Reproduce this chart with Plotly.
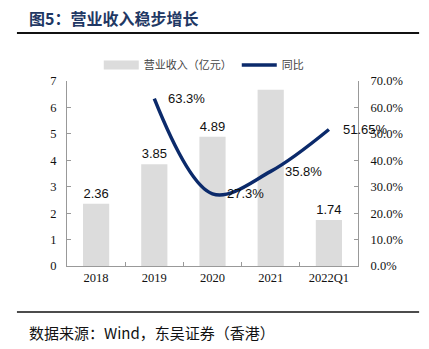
import plotly.graph_objects as go

categories = ["2018", "2019", "2020", "2021", "2022Q1"]
revenue = [2.36, 3.85, 4.89, 6.67, 1.74]
revenue_labels = ["2.36", "3.85", "4.89", "", "1.74"]
yoy_x = ["2019", "2020", "2021", "2022Q1"]
yoy = [63.3, 27.3, 35.8, 51.65]
yoy_labels = ["63.3%", "27.3%", "35.8%", "51.65%"]

NAVY = "#0b2a6b"
BAR = "#dcdcdc"
fig = go.Figure()
fig.add_trace(go.Bar(
    x=categories, y=revenue, name="营业收入（亿元）", showlegend=False,
    marker=dict(color=BAR, line=dict(width=0)),
    width=0.45, text=revenue_labels, textposition="outside",
    textfont=dict(family="Liberation Sans, Arial", size=13, color="#111"),
    cliponaxis=False,
))
# legend entry for the bars (wide grey swatch, as in the reference)
fig.add_trace(go.Scatter(
    x=[None], y=[None], name="营业收入（亿元）", mode="lines",
    line=dict(color=BAR, width=9),
))
fig.add_trace(go.Scatter(
    x=yoy_x, y=yoy, name="同比", yaxis="y2", mode="lines",
    line=dict(color=NAVY, width=3.5, shape="spline", smoothing=1.0),
))
for xv, yv, lab in zip(yoy_x, yoy, yoy_labels):
    fig.add_annotation(x=categories.index(xv), y=yv, yref="y2", text=lab, showarrow=False,
                       xanchor="left", yanchor="middle", xshift=12,
                       font=dict(family="Liberation Sans, Arial", size=13, color="#111"))

fig.add_annotation(xref="paper", yref="paper", x=-0.137, y=1.34, xanchor="left", yanchor="middle",
                   text="<b>图5：营业收入稳步增长</b>", showarrow=False, width=200, align="left",
                   font=dict(family="Noto Sans CJK SC", size=16, color="#1f3864"))
fig.add_annotation(xref="paper", yref="paper", x=-0.137, y=-0.362, xanchor="left", yanchor="middle",
                   text="数据来源：Wind，东吴证券（香港&#65289;&nbsp;", showarrow=False,
                   width=290, align="left",
                   font=dict(family="Noto Sans CJK SC", size=15, color="#111"))
fig.add_shape(type="line", xref="paper", yref="paper", x0=-0.172, x1=1.210, y0=1.259, y1=1.259,
              line=dict(color="#111", width=2))
fig.add_shape(type="line", xref="paper", yref="paper", x0=-0.172, x1=1.210, y0=-0.249, y1=-0.249,
              line=dict(color="#111", width=1.5))

axis_font = dict(family="Liberation Serif, Times New Roman", size=12.5, color="#111")
fig.update_layout(
    width=429, height=349,
    margin=dict(l=67, r=71, t=81, b=83),
    paper_bgcolor="white", plot_bgcolor="white",
    showlegend=True,
    legend=dict(orientation="h", x=0.47, xanchor="center", y=1.086, yanchor="middle",
                font=dict(family="Noto Sans CJK SC", size=11, color="#444"),
                itemwidth=35, bgcolor="rgba(0,0,0,0)", tracegroupgap=0),
    xaxis=dict(type="category", range=[-0.5, len(categories) - 0.5], autorange=False,
               showline=True, linecolor="#999", linewidth=1,
               ticks="inside", tickson="boundaries", ticklen=4, tickcolor="#999",
               tickfont=axis_font, showgrid=False, zeroline=False, tickangle=0),
    yaxis=dict(range=[0, 7], dtick=1, showline=True, linecolor="#999", linewidth=1,
               ticks="inside", ticklen=4, tickcolor="#999", tickfont=axis_font,
               showgrid=False, zeroline=False, ticklabelstandoff=7),
    yaxis2=dict(range=[0, 70], dtick=10, overlaying="y", side="right", showline=True,
                linecolor="#999", linewidth=1, ticks="inside", ticklen=4, tickcolor="#999",
                tickformat=".1f", ticksuffix="%", tickfont=axis_font,
                showgrid=False, zeroline=False, ticklabelstandoff=9),
    bargap=0.55,
)
fig.write_html("out.html")
